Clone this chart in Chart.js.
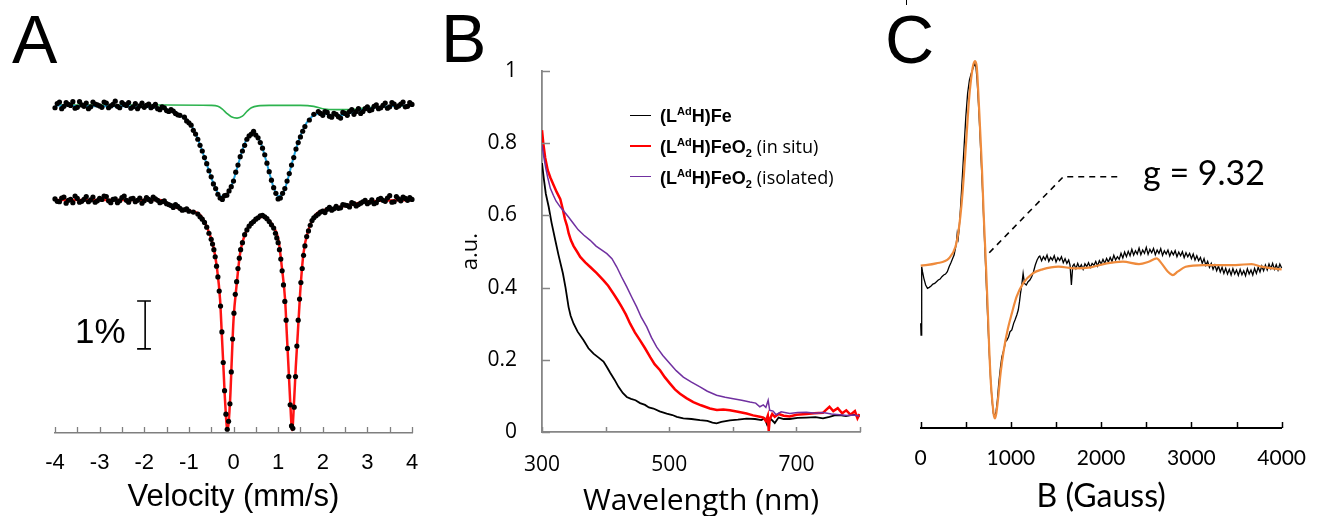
<!DOCTYPE html>
<html>
<head>
<meta charset="utf-8">
<script src="https://cdn.jsdelivr.net/npm/chart.js@4.4.1/dist/chart.umd.min.js"></script>
<style>
  html, body { margin: 0; padding: 0; background: #fff; }
  body { width: 1324px; height: 516px; position: relative; overflow: hidden; }
  canvas { position: absolute; top: 0; }
  .lbl { position: absolute; line-height: 1; white-space: nowrap; color: #000; }
  .panel { font-family: "Liberation Sans", Arial, sans-serif; font-size: 68px; }
  .legrow { position: absolute; left: 630px; height: 30px; line-height: 30px; white-space: nowrap; }
  .legrow .sw { position: absolute; left: 0; width: 21px; top: 15px; }
  .legrow .tx { position: absolute; left: 30px; top: 0; font-family: "Liberation Sans", Arial, sans-serif; font-weight: bold; font-size: 18px; }
  .legrow .tx .n { font-family: "Open Sans", sans-serif; font-weight: normal; font-size: 18px; }
  .legrow sup { font-size: 11px; position: relative; top: -7px; vertical-align: baseline; line-height: 0; }
  .legrow sub { font-size: 11px; position: relative; top: 4px; vertical-align: baseline; line-height: 0; }
</style>
</head>
<body>
<canvas id="chartA" width="440" height="516" style="left:0px"></canvas>
<canvas id="chartB" width="440" height="516" style="left:440px"></canvas>
<canvas id="chartC" width="444" height="516" style="left:880px"></canvas>

<div class="lbl panel" style="left:12px;top:5px">A</div>
<div class="lbl panel" style="left:441px;top:4px">B</div>
<div class="lbl panel" style="left:885px;top:5px">C</div>
<div class="lbl" style="left:75px;top:313px;font-family:'Liberation Sans',Arial,sans-serif;font-size:35px">1%</div>
<div class="lbl" style="left:1143px;top:155px;font-family:Lato,sans-serif;font-size:34px">g = 9.32</div>
<div style="position:absolute;left:906px;top:0;width:1px;height:5px;background:#000"></div>
<div id="legendB"></div>

<script>
// ---------- Panel A : Mössbauer ----------
const velTicks = [-4, -3, -2, -1, 0, 1, 2, 3, 4];

const topDots = [
  [-4.0,6.92],[-3.9,7.04],[-3.8,6.95],[-3.7,6.99],[-3.6,7.05],[-3.5,6.93],[-3.4,6.98],[-3.3,7.02],[-3.2,6.94],[-3.1,7.00],
  [-3.0,6.96],[-2.9,7.04],[-2.8,6.92],[-2.7,6.99],[-2.6,6.95],[-2.5,7.03],[-2.4,6.97],[-2.3,6.91],[-2.2,7.01],[-2.1,6.96],
  [-2.0,6.93],[-1.9,7.00],[-1.8,6.95],[-1.7,6.90],[-1.6,6.94],[-1.5,6.86],[-1.4,6.88],[-1.3,6.80],[-1.2,6.76],[-1.1,6.72],
  [-1.05,6.64],[-1.0,6.60],[-0.95,6.55],[-0.9,6.44],[-0.85,6.36],[-0.8,6.25],[-0.75,6.12],[-0.7,6.00],[-0.65,5.86],[-0.6,5.73],
  [-0.55,5.58],[-0.5,5.45],[-0.45,5.30],[-0.4,5.20],[-0.35,5.08],[-0.3,5.00],[-0.25,4.97],[-0.2,5.05],[-0.15,5.06],[-0.1,5.15],
  [-0.05,5.24],[0.0,5.36],[0.05,5.55],[0.1,5.70],[0.15,5.88],[0.2,6.00],[0.25,6.12],[0.3,6.25],[0.35,6.32],[0.4,6.36],
  [0.45,6.42],[0.5,6.34],[0.55,6.28],[0.6,6.18],[0.65,6.06],[0.7,5.92],[0.75,5.74],[0.8,5.56],[0.85,5.38],[0.9,5.22],
  [0.95,5.10],[1.0,4.98],[1.05,5.00],[1.1,5.10],[1.15,5.20],[1.2,5.36],[1.25,5.52],[1.3,5.70],[1.35,5.86],[1.4,6.04],
  [1.45,6.18],[1.5,6.30],[1.55,6.42],[1.6,6.52],[1.7,6.66],[1.8,6.78],[1.9,6.84],[2.0,6.76],[2.1,6.82],[2.2,6.72],
  [2.3,6.78],[2.4,6.70],[2.5,6.80],[2.6,6.84],[2.7,6.78],[2.8,6.90],[2.9,6.84],[3.0,6.94],[3.1,6.88],[3.2,6.98],
  [3.3,6.92],[3.4,7.02],[3.5,6.94],[3.6,7.00],[3.7,6.96],[3.8,7.04],[3.9,6.95],[4.0,6.99]
];
const topDotsFill = [
  [-3.95,7.01],[-3.85,6.90],[-3.75,7.03],[-3.65,6.97],[-3.55,6.91],[-3.45,7.05],[-3.35,6.95],[-3.25,6.90],[-3.15,7.04],[-3.05,6.98],
  [-2.95,6.93],[-2.85,7.02],[-2.75,6.96],[-2.65,7.06],[-2.55,6.92],[-2.45,6.99],[-2.35,7.03],[-2.25,6.94],[-2.15,6.90],[-2.05,7.02],
  [-1.95,6.97],[-1.85,6.92],[-1.75,6.99],[-1.65,6.88],[-1.55,6.92],[-1.45,6.84],[-1.35,6.85],[-1.25,6.77],
  [1.95,6.80],[2.05,6.84],[2.15,6.74],[2.25,6.80],[2.35,6.73],[2.45,6.82],[2.55,6.76],[2.65,6.88],[2.75,6.84],[2.85,6.80],
  [2.95,6.90],[3.05,6.86],[3.15,6.95],[3.25,6.90],[3.35,6.97],[3.45,6.91],[3.55,7.03],[3.65,6.93],[3.75,7.00],[3.85,6.94],[3.95,7.03]
];

const topFit = [
  [-4.0,6.97],[-3.5,6.96],[-3.0,6.95],[-2.5,6.95],[-2.0,6.94],[-1.7,6.92],[-1.5,6.88],[-1.3,6.82],[-1.1,6.70],[-1.0,6.62],
  [-0.9,6.47],[-0.8,6.26],[-0.7,6.00],[-0.6,5.72],[-0.5,5.44],[-0.4,5.20],[-0.3,5.04],[-0.2,5.02],[-0.1,5.14],[0.0,5.38],
  [0.1,5.70],[0.2,6.02],[0.3,6.26],[0.4,6.37],[0.45,6.39],[0.5,6.36],[0.6,6.20],[0.7,5.90],[0.8,5.55],[0.9,5.22],
  [1.0,5.04],[1.1,5.08],[1.2,5.34],[1.3,5.70],[1.4,6.04],[1.5,6.32],[1.6,6.54],[1.7,6.68],[1.8,6.76],[1.9,6.79],
  [2.0,6.80],[2.2,6.76],[2.4,6.76],[2.6,6.80],[2.8,6.86],[3.0,6.90],[3.5,6.95],[4.0,6.98]
];

const greenFit = [
  [-4.0,6.98],[-1.5,6.98],[-0.5,6.97],[-0.35,6.95],[-0.25,6.89],[-0.15,6.80],[-0.05,6.73],[0.08,6.70],[0.2,6.74],[0.3,6.84],
  [0.4,6.92],[0.55,6.96],[0.8,6.97],[1.5,6.97],[1.8,6.95],[2.0,6.90],[2.3,6.88],[2.6,6.88],[3.0,6.92],[3.5,6.95],[4.0,6.97]
];

const botDots = [
  [-4.0,4.98],[-3.9,4.92],[-3.8,5.02],[-3.7,4.95],[-3.6,4.90],[-3.5,4.99],[-3.4,4.93],[-3.3,5.03],[-3.2,4.96],[-3.1,4.91],
  [-3.0,4.99],[-2.9,5.04],[-2.8,4.94],[-2.7,4.97],[-2.6,4.90],[-2.5,5.01],[-2.4,4.95],[-2.3,4.98],[-2.2,4.92],[-2.1,5.00],
  [-2.0,4.94],[-1.9,4.97],[-1.8,5.02],[-1.7,4.95],[-1.6,4.92],[-1.5,4.88],[-1.4,4.84],[-1.3,4.86],[-1.2,4.78],[-1.1,4.75],
  [-1.0,4.72],[-0.9,4.70],[-0.8,4.66],[-0.75,4.60],[-0.7,4.55],[-0.65,4.48],[-0.6,4.38],[-0.55,4.25],[-0.5,4.12],[-0.47,4.02],
  [-0.44,3.90],[-0.41,3.75],[-0.38,3.55],[-0.35,3.32],[-0.32,3.02],[-0.29,2.70],[-0.26,2.15],[-0.23,1.50],[-0.20,0.90],[-0.17,0.40],
  [-0.14,0.08],[-0.11,0.25],[-0.08,0.62],[-0.05,1.30],[-0.02,2.00],[0.01,2.55],[0.04,2.95],[0.07,3.22],[0.10,3.50],[0.13,3.72],
  [0.16,3.90],[0.20,4.05],[0.25,4.22],[0.30,4.32],[0.35,4.40],[0.40,4.46],[0.45,4.50],[0.50,4.55],[0.55,4.58],[0.60,4.62],
  [0.65,4.63],[0.70,4.60],[0.75,4.56],[0.80,4.50],[0.85,4.43],[0.90,4.36],[0.94,4.25],[0.97,4.15],[1.00,4.05],[1.03,3.90],
  [1.06,3.70],[1.09,3.45],[1.12,3.15],[1.15,2.80],[1.18,2.40],[1.21,1.80],[1.24,1.20],[1.27,0.60],[1.30,0.15],[1.33,0.10],
  [1.36,0.55],[1.39,1.20],[1.42,1.85],[1.45,2.40],[1.48,2.85],[1.51,3.20],[1.54,3.50],[1.57,3.78],[1.60,3.98],[1.64,4.18],
  [1.68,4.30],[1.72,4.42],[1.76,4.52],[1.8,4.58],[1.9,4.66],[2.0,4.72],[2.1,4.76],[2.2,4.74],[2.3,4.82],[2.4,4.79],
  [2.5,4.85],[2.6,4.81],[2.7,4.88],[2.8,4.86],[2.9,4.92],[3.0,4.88],[3.1,4.96],[3.2,4.90],[3.3,4.99],[3.4,4.93],
  [3.5,5.05],[3.6,4.92],[3.7,4.98],[3.8,5.02],[3.9,4.95],[4.0,4.97]
];
const botDotsFill = [
  [-3.95,4.93],[-3.85,5.00],[-3.75,4.89],[-3.65,4.97],[-3.55,5.04],[-3.45,4.91],[-3.35,4.97],[-3.25,4.92],[-3.15,5.02],[-3.05,4.94],
  [-2.95,4.97],[-2.85,5.03],[-2.75,4.90],[-2.65,4.98],[-2.55,4.94],[-2.45,5.04],[-2.35,4.91],[-2.25,4.99],[-2.15,4.95],[-2.05,4.89],
  [-1.95,5.01],[-1.85,4.93],[-1.75,4.98],[-1.65,4.90],[-1.55,4.94],[-1.45,4.86],[-1.35,4.80],[-1.25,4.82],[-1.15,4.74],[-1.05,4.77],
  [1.85,4.62],[1.95,4.70],[2.05,4.69],[2.15,4.80],[2.25,4.77],[2.35,4.78],[2.45,4.86],[2.55,4.84],[2.65,4.90],[2.75,4.83],
  [2.85,4.89],[2.95,4.95],[3.05,4.91],[3.15,4.88],[3.25,4.97],[3.35,4.95],[3.45,5.00],[3.55,4.91],[3.65,5.03],[3.75,4.94],
  [3.85,4.99],[3.95,5.01]
];

const botFit = [
  [-4.0,4.96],[-1.65,4.96],[-1.35,4.82],[-1.05,4.74],[-0.75,4.64],[-0.60,4.39],[-0.45,3.96],[-0.375,3.54],[-0.30,2.83],[-0.263,2.12],
  [-0.226,1.41],[-0.19,0.70],[-0.136,0.06],[-0.076,0.70],[-0.039,1.55],[0.0,2.40],[0.073,3.18],[0.148,3.82],[0.297,4.32],[0.447,4.50],
  [0.671,4.60],[0.895,4.39],[1.007,4.11],[1.082,3.54],[1.157,2.83],[1.194,2.12],[1.232,1.41],[1.269,0.70],[1.314,0.06],[1.359,0.70],
  [1.396,1.41],[1.441,2.12],[1.493,2.97],[1.568,3.82],[1.680,4.32],[1.867,4.67],[2.241,4.78],[2.988,4.92],[4.012,4.96]
];

// 1 % scale bar (in data units)
const scaleBar = [[-2.16,2.81],[-1.85,2.81],[-1.98,2.81],[-1.98,1.79],[-2.16,1.79],[-1.85,1.79]];

// ---------- Panel B : UV-vis ----------
const wlLabels = [300, 500, 700];
const seriesNamesB = [
  '(L<sup>Ad</sup>H)Fe',
  '(L<sup>Ad</sup>H)FeO<sub>2</sub> <span class="n">(in situ)</span>',
  '(L<sup>Ad</sup>H)FeO<sub>2</sub> <span class="n">(isolated)</span>'
];
const colorsB = ['#000000', '#ff0000', '#7030a0'];
const widthsB = [1.8, 2.5, 1.5];

const uvFe = [
  [300,0.745],[303,0.70],[306,0.66],[310.5,0.624],[315,0.58],[320.9,0.531],[326,0.49],[332.9,0.439],[337,0.40],[341.8,0.346],
  [345,0.322],[349.7,0.300],[356,0.278],[365.4,0.254],[373,0.232],[381,0.217],[389,0.206],[396.7,0.195],[402,0.180],[407.2,0.164],
  [414,0.145],[420.3,0.125],[427,0.108],[433.3,0.097],[440,0.092],[447,0.088],[454.2,0.080],[462,0.075],[468,0.068],[475.2,0.065],
  [485,0.057],[496.1,0.051],[505,0.047],[512,0.042],[522.2,0.038],[535,0.036],[548.4,0.033],[560,0.031],[568,0.026],[574.5,0.024],
  [582,0.028],[595.4,0.032],[608,0.034],[621.6,0.037],[635,0.036],[645,0.033],[650,0.038],[654,0.020],[657,0.030],[660,0.036],
  [666,0.025],[672,0.040],[680,0.036],[689.5,0.036],[702,0.039],[715.7,0.040],[730,0.041],[741.8,0.038],[752,0.042],[760,0.046],
  [768,0.047],[778,0.044],[789,0.048],[799.3,0.044]
];
const uvFeO2situ = [
  [300,0.836],[302,0.80],[305,0.76],[309,0.725],[313.1,0.705],[318,0.685],[323,0.665],[328.8,0.645],[333,0.615],[336,0.59],
  [339.2,0.572],[342,0.55],[345.5,0.531],[349.7,0.515],[355,0.500],[360.1,0.485],[368,0.470],[375.8,0.457],[386,0.440],[396.7,0.420],
  [404,0.405],[412.4,0.383],[419,0.365],[425.5,0.346],[432,0.325],[438.6,0.300],[446,0.276],[454.2,0.254],[462,0.232],[469.9,0.208],
  [477,0.188],[485.6,0.171],[493,0.152],[501.3,0.134],[509,0.118],[517,0.106],[527,0.094],[537.9,0.083],[550,0.074],[564,0.065],
  [575,0.061],[585,0.062],[595.4,0.060],[608,0.056],[621.6,0.051],[632,0.046],[642.5,0.042],[648,0.040],[652,0.030],[655,0.045],
  [656.5,0.003],[658,0.035],[662,0.050],[666,0.042],[672,0.050],[680,0.045],[689.5,0.043],[700,0.048],[715.7,0.050],[728,0.052],
  [741.8,0.053],[747.1,0.062],[752,0.070],[758,0.058],[765,0.066],[772,0.052],[778.4,0.060],[785,0.048],[792,0.058],[796,0.038],
  [799.3,0.050]
];
const uvFeO2iso = [
  [300,0.795],[303,0.76],[306,0.73],[309,0.705],[313.1,0.675],[318,0.655],[322,0.640],[328.8,0.623],[335,0.610],[342,0.595],
  [349.7,0.577],[357,0.560],[366,0.545],[375.8,0.531],[385,0.515],[393,0.505],[402,0.494],[410,0.480],[417.6,0.457],[425,0.430],
  [433.3,0.402],[441,0.374],[449,0.346],[456,0.318],[464.7,0.291],[472,0.262],[480.4,0.235],[490,0.212],[501.3,0.189],[511,0.170],
  [522.2,0.152],[535,0.138],[548.4,0.125],[560,0.113],[574.5,0.102],[588,0.096],[600.7,0.092],[614,0.088],[626.8,0.083],[636,0.080],
  [642.5,0.070],[648,0.075],[652,0.068],[655.6,0.088],[658,0.060],[663.4,0.058],[668,0.048],[676,0.056],[689.5,0.051],[702,0.054],
  [715.7,0.055],[730,0.052],[741.8,0.054],[755,0.050],[768,0.048],[780,0.046],[790,0.047],[799.3,0.044]
];

// ---------- Panel C : EPR ----------
const gaussLabels = [0, 1000, 2000, 3000, 4000];

const eprData = [
  [0,-1.70],[4,-2.05],[8,-1.60],[14,0.0],[20,-0.15],[35,-0.35],[55,-0.55],[75,-0.65],[95,-0.62],[115,-0.58],
  [135,-0.52],[155,-0.50],[175,-0.45],[195,-0.40],[215,-0.37],[235,-0.30],[255,-0.25],[275,-0.22],[295,-0.15],[315,0.0],
  [335,0.12],[355,0.25],[370,0.35],[385,0.55],[395,0.70],[405,1.00],[415,0.85],[425,1.10],[440,1.70],[455,2.40],
  [470,3.10],[485,3.80],[500,4.50],[520,5.20],[540,5.60],[560,5.80],[580,5.95],[600,6.10],[612,6.00],[625,5.60],
  [640,4.90],[655,4.10],[670,3.20],[685,2.30],[700,1.30],[715,0.30],[730,-0.70],[745,-1.70],[760,-2.60],[775,-3.40],
  [790,-4.00],[805,-4.40],[820,-4.50],[835,-4.35],[850,-4.00],[865,-3.50],[885,-3.00],[900,-2.70],[921,-2.50],[940,-2.25],
  [956,-2.20],[974,-2.10],[990,-1.95],[1010,-1.90],[1030,-1.70],[1045,-1.60],[1065,-1.45],[1081,-1.30],[1095,-1.05],[1106,-0.80],
  [1120,-0.55],[1135,-0.20],[1150,-0.50],[1170,-0.55],[1190,-0.45],[1210,-0.40],[1230,-0.30],[1250,-0.15],[1270,0.05],[1290,0.20],
  [1310,0.30],[1320,0.32],[1340,0.18],[1360,0.30],[1380,0.21],[1400,0.35],[1420,0.16],[1440,0.28],[1460,0.20],[1480,0.33],
  [1500,0.14],[1520,0.27],[1540,0.19],[1560,0.30],[1580,0.12],[1600,0.24],[1620,0.10],[1640,0.20],[1655,0.05],[1670,-0.55],
  [1685,0.02],[1700,0.08],[1720,-0.06],[1740,0.10],[1760,-0.04],[1780,0.06],[1800,-0.08],[1820,0.09],[1840,0.0],[1860,0.12],
  [1880,-0.02],[1900,0.10],[1920,0.04],[1940,0.16],[1960,0.02],[1980,0.18],[2000,0.08],[2020,0.22],[2040,0.10],[2060,0.25],
  [2080,0.14],[2100,0.28],[2120,0.16],[2140,0.34],[2160,0.20],[2180,0.30],[2200,0.22],[2220,0.40],[2240,0.26],[2260,0.44],
  [2280,0.30],[2300,0.46],[2320,0.33],[2340,0.52],[2360,0.35],[2380,0.48],[2400,0.38],[2420,0.56],[2440,0.36],[2460,0.50],
  [2480,0.40],[2500,0.58],[2520,0.37],[2540,0.52],[2560,0.42],[2580,0.55],[2600,0.36],[2620,0.50],[2640,0.40],[2660,0.54],
  [2680,0.34],[2700,0.48],[2720,0.38],[2740,0.50],[2760,0.32],[2780,0.46],[2800,0.36],[2820,0.48],[2840,0.30],[2860,0.44],
  [2880,0.33],[2900,0.45],[2920,0.27],[2940,0.42],[2960,0.30],[2980,0.40],[3000,0.24],[3020,0.38],[3040,0.20],[3060,0.33],
  [3080,0.18],[3100,0.28],[3120,0.10],[3140,0.24],[3160,0.04],[3180,0.16],[3200,-0.02],[3220,0.10],[3240,-0.08],[3260,0.05],
  [3280,-0.12],[3300,0.02],[3320,-0.16],[3340,-0.02],[3360,-0.20],[3380,-0.05],[3400,-0.22],[3420,-0.08],[3440,-0.25],[3460,-0.06],
  [3480,-0.22],[3500,-0.10],[3520,-0.26],[3540,-0.08],[3560,-0.24],[3580,-0.12],[3600,-0.27],[3620,-0.06],[3640,-0.22],[3660,-0.10],
  [3680,-0.25],[3700,-0.05],[3720,-0.20],[3740,-0.02],[3760,-0.16],[3780,0.02],[3800,-0.12],[3820,0.05],[3840,-0.10],[3860,0.08],
  [3880,-0.06],[3900,0.10],[3920,-0.08],[3940,0.06],[3960,-0.10],[3980,0.08],[4000,-0.04]
];

const eprFit = [
  [0,0.03],[171,0.10],[314,0.25],[385,0.60],[421,1.10],[457,2.00],[485,3.00],[510,4.00],[535,5.00],[557,5.60],
  [582,6.05],[603,6.17],[621,6.00],[635,5.40],[657,4.20],[678,3.00],[699,1.50],[724,0.00],[742,-1.20],[760,-2.50],
  [778,-3.50],[796,-4.10],[810,-4.45],[824,-4.55],[838,-4.40],[856,-4.00],[885,-3.20],[921,-2.50],[963,-1.90],[1010,-1.40],
  [1063,-0.90],[1135,-0.50],[1242,-0.20],[1349,-0.08],[1527,0.00],[1706,-0.05],[1884,-0.02],[2062,0.10],[2241,0.15],[2419,0.08],
  [2526,0.15],[2615,0.25],[2669,0.10],[2740,-0.15],[2794,-0.25],[2847,-0.15],[2936,0.00],[3133,0.05],[3490,0.05],[3668,0.08],
  [3775,0.00],[4000,-0.08]
];

// g = 9.32 pointer (data units)
const gPointer = [[760,0.42],[1581,2.70],[2223,2.70]];

// ---------- helpers ----------
const xy = arr => arr.map(p => ({ x: p[0], y: p[1] }));

const innerTicks = {
  id: 'innerTicks',
  afterDraw(chart, args, opts) {
    const ctx = chart.ctx;
    const area = chart.chartArea;
    ctx.save();
    ctx.strokeStyle = opts.color;
    ctx.lineWidth = opts.width;
    if (opts.x) {
      const s = chart.scales.x;
      s.ticks.forEach(t => {
        const px = Math.round(s.getPixelForValue(t.value)) + 0.5;
        ctx.beginPath();
        ctx.moveTo(px, area.bottom);
        ctx.lineTo(px, area.bottom - opts.x);
        ctx.stroke();
      });
    }
    if (opts.y) {
      const s = chart.scales.y;
      s.ticks.forEach(t => {
        const py = Math.round(s.getPixelForValue(t.value)) + 0.5;
        ctx.beginPath();
        ctx.moveTo(area.left, py);
        ctx.lineTo(area.left + opts.y, py);
        ctx.stroke();
      });
    }
    ctx.restore();
  }
};

const common = {
  responsive: false,
  animation: false,
  events: [],
  devicePixelRatio: 1
};

const dotStyle = { showLine: false, pointRadius: 2.6, pointBackgroundColor: '#000', pointBorderWidth: 0, order: 0, clip: false };

// ---------- Chart A ----------
new Chart(document.getElementById('chartA'), {
  type: 'line',
  data: {
    datasets: [
      { data: xy(topDots.concat(topDotsFill)), ...dotStyle },
      { data: xy(botDots.concat(botDotsFill)), ...dotStyle },
      { data: xy(topFit), borderColor: '#1fa3de', borderWidth: 2, pointRadius: 0, cubicInterpolationMode: 'monotone', order: 2, clip: false },
      { data: xy(greenFit), borderColor: '#2db34f', borderWidth: 1.6, pointRadius: 0, cubicInterpolationMode: 'monotone', order: 3, clip: false },
      { data: xy(botFit), borderColor: '#ff1414', borderWidth: 2.5, pointRadius: 0, cubicInterpolationMode: 'monotone', order: 2, clip: false },
      { data: xy(scaleBar), borderColor: '#000', borderWidth: 1.6, pointRadius: 0, tension: 0, order: 1, clip: false }
    ]
  },
  options: {
    ...common,
    layout: { padding: { left: 55, right: 28, top: 57, bottom: 0 } },
    plugins: { legend: { display: false }, tooltip: { enabled: false },
      innerTicks: { x: 6, color: '#7f7f7f', width: 1.3 } },
    scales: {
      x: {
        type: 'linear', min: -4, max: 4,
        afterFit: s => { s.height = 83; },
        border: { display: true, color: '#7f7f7f', width: 1.5 },
        grid: { display: false, drawTicks: false },
        ticks: {
          stepSize: 0.5, autoSkip: false, maxRotation: 0, padding: 17, color: '#000',
          font: { family: 'Liberation Sans', size: 22 },
          callback: v => velTicks.includes(v) ? String(v) : ''
        },
        title: { display: true, text: 'Velocity (mm/s)', color: '#000',
          font: { family: 'Liberation Sans', size: 31, lineHeight: 1 }, padding: { top: 0, bottom: 3 } }
      },
      y: { display: false, min: 0, max: 8 }
    }
  },
  plugins: [innerTicks]
});

// ---------- Chart B ----------
new Chart(document.getElementById('chartB'), {
  type: 'line',
  data: {
    datasets: [uvFe, uvFeO2situ, uvFeO2iso].map((d, i) => ({
      data: xy(d), borderColor: colorsB[i], borderWidth: widthsB[i], pointRadius: 0, tension: 0,
      order: [2, 1, 0][i]
    }))
  },
  options: {
    ...common,
    layout: { padding: { left: 0, right: 19.5, top: 71, bottom: 0 } },
    plugins: { legend: { display: false }, tooltip: { enabled: false },
      innerTicks: { x: 5, y: 8, color: '#868686', width: 1.5 } },
    scales: {
      x: {
        type: 'linear', min: 300, max: 800,
        afterFit: s => { s.height = 84; },
        border: { display: true, color: '#868686', width: 1.8 },
        grid: { display: false, drawTicks: false },
        ticks: {
          stepSize: 100, autoSkip: false, maxRotation: 0, padding: 20, color: '#000',
          font: { family: 'Open Sans', size: 21 },
          callback: v => wlLabels.includes(v) ? String(v) : ''
        },
        title: { display: true, text: 'Wavelength (nm)', color: '#000',
          font: { family: 'Open Sans', size: 30, lineHeight: 1 }, padding: { top: 0, bottom: 0 } }
      },
      y: {
        min: 0, max: 1,
        afterFit: s => { s.width = 102; },
        border: { display: true, color: '#868686', width: 1.8 },
        grid: { display: false, drawTicks: false },
        ticks: { stepSize: 0.2, padding: 25, color: '#000', font: { family: 'Open Sans', size: 21 },
          callback: v => String(Math.round(v * 10) / 10) },
        title: { display: true, text: 'a.u.', color: '#000',
          font: { family: 'Open Sans', size: 22 }, padding: { top: 18, bottom: 0 } }
      }
    }
  },
  plugins: [innerTicks]
});

// legend for B (HTML so that super/subscripts stay real text)
const rowCenters = [116, 146, 177];
document.getElementById('legendB').innerHTML = seriesNamesB.map((name, i) =>
  '<div class="legrow" style="top:' + (rowCenters[i] - 15) + 'px">' +
  '<span class="sw" style="border-top:' + widthsB[i] + 'px solid ' + colorsB[i] + ';margin-top:-' + (widthsB[i] / 2) + 'px"></span>' +
  '<span class="tx">' + name + '</span></div>'
).join('');

// ---------- Chart C ----------
new Chart(document.getElementById('chartC'), {
  type: 'line',
  data: {
    datasets: [
      { data: xy(eprFit), borderColor: '#ef8b3c', borderWidth: 2.2, pointRadius: 0, cubicInterpolationMode: 'monotone', order: 0, clip: false },
      { data: xy(eprData), borderColor: '#000', borderWidth: 1.3, pointRadius: 0, tension: 0, order: 1, clip: false },
      { data: xy(gPointer), borderColor: '#000', borderWidth: 1.6, borderDash: [6, 5], pointRadius: 0, tension: 0, order: 2, clip: false }
    ]
  },
  options: {
    ...common,
    layout: { padding: { left: 40.7, right: 29.7, top: 33.4, bottom: 0 } },
    plugins: { legend: { display: false }, tooltip: { enabled: false },
      innerTicks: { x: 6, color: '#000', width: 1.5 } },
    scales: {
      x: {
        type: 'linear', min: 0, max: 4000,
        afterFit: s => { s.height = 88; },
        border: { display: true, color: '#000', width: 2 },
        grid: { display: false, drawTicks: false },
        ticks: {
          stepSize: 500, autoSkip: false, maxRotation: 0, padding: 18, color: '#000',
          font: { family: 'Lato', size: 21 },
          callback: v => gaussLabels.includes(v) ? String(v) : ''
        },
        title: { display: true, text: 'B (Gauss)', color: '#000',
          font: { family: 'Lato', size: 32, lineHeight: 1 }, padding: { top: 0, bottom: 3 } }
      },
      y: { display: false, min: -4.84, max: 7 }
    }
  },
  plugins: [innerTicks]
});
</script>
</body>
</html>
